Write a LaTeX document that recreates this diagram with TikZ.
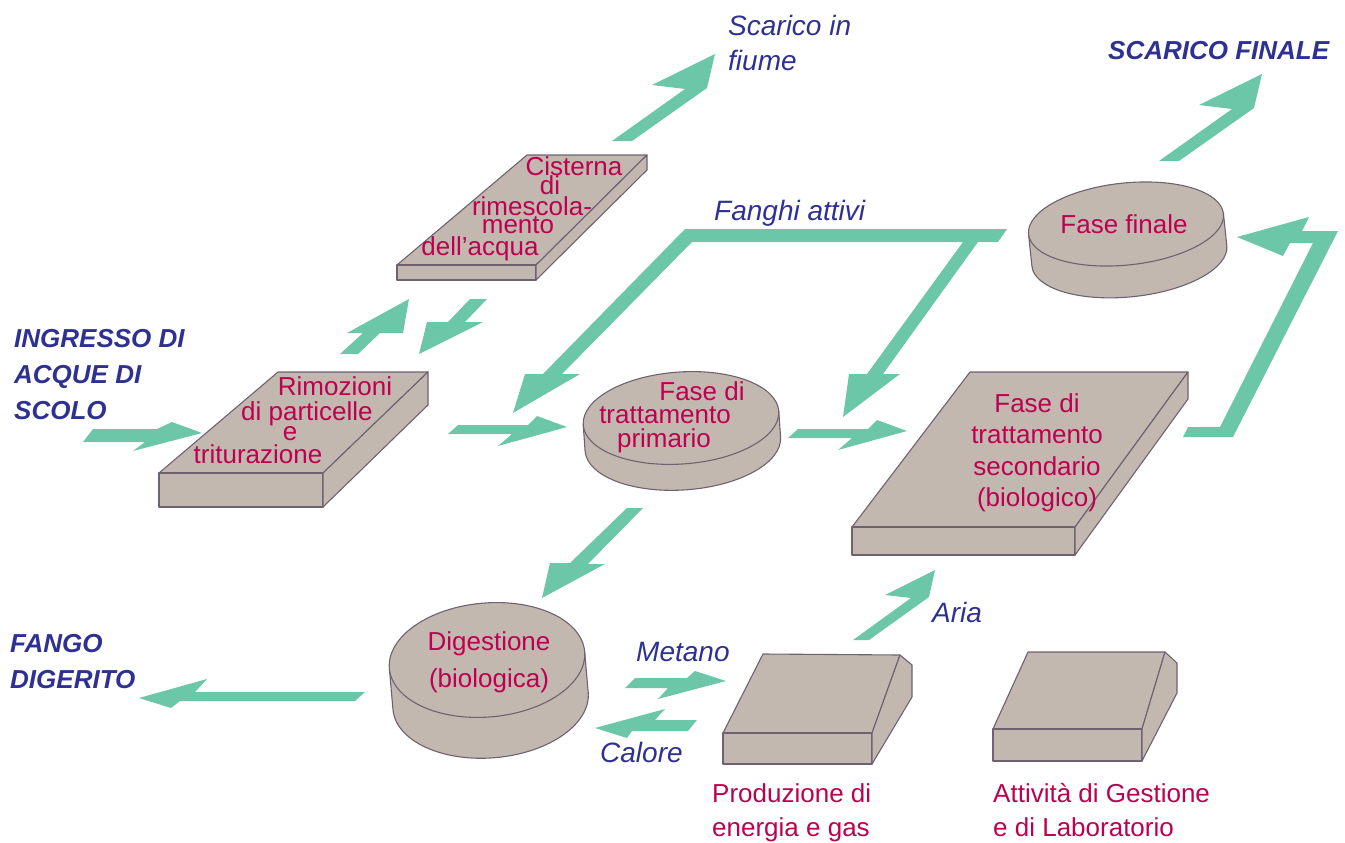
\documentclass[tikz,border=0pt]{standalone}
\usepackage{fontspec}
\setmainfont{Liberation Sans}
\definecolor{arrgreen}{RGB}{108,198,168}
\definecolor{lblue}{RGB}{46,49,146}
\definecolor{mag}{RGB}{190,0,80}
\definecolor{boxf}{RGB}{194,184,175}
\definecolor{boxd}{RGB}{110,98,114}
\newcommand\cylinder[6]{%
  \begin{scope}[rotate around={#6:(#1,#2)}]
    \fill[boxf] (#1-#3,#2) -- (#1-#3,#2+#5) arc[start angle=180,end angle=0,x radius=#3,y radius=#4] -- (#1+#3,#2) -- cycle;
    \draw[boxline] (#1-#3,#2) -- (#1-#3,#2+#5) arc[start angle=180,end angle=0,x radius=#3,y radius=#4] -- (#1+#3,#2);
    \filldraw[slab] (#1,#2) ellipse [x radius=#3, y radius=#4];
  \end{scope}}
\begin{document}
\begin{tikzpicture}[x=1pt,y=-1pt,
  flowarr/.style={fill=arrgreen},
  slab/.style={fill=boxf,draw=boxd,line width=1.1pt,line join=round},
  boxline/.style={draw=boxd,line width=1.1pt,line join=round},
  bluelab/.style={text=lblue,font=\fontsize{28}{35}\selectfont\itshape,inner sep=0pt,align=left},
  boldlab/.style={text=lblue,font=\fontsize{26}{36}\selectfont\bfseries\itshape,inner sep=0pt,align=left},
  maglab/.style={text=mag,font=\fontsize{26}{30}\selectfont,inner sep=0pt},
]
\useasboundingbox (0,0) rectangle (1345,843);

% ---------- boxes ----------
% Rimozioni
\filldraw[slab] (159,473) -- (278,372) -- (428,372) -- (323,473) -- cycle;
\filldraw[slab] (159,473) rectangle (323,507);
\filldraw[slab] (323,473) -- (428,372) -- (428,405) -- (323,507) -- cycle;
% Cisterna
\filldraw[slab] (397,265) -- (527,155) -- (647,155) -- (536,265) -- cycle;
\filldraw[slab] (397,265) rectangle (536,280);
\filldraw[slab] (536,265) -- (647,155) -- (647,170) -- (536,280) -- cycle;
% secondario
\filldraw[slab] (852,527) -- (970,372) -- (1188,372) -- (1075,527) -- cycle;
\filldraw[slab] (852,527) rectangle (1075,555);
\filldraw[slab] (1075,527) -- (1188,372) -- (1188,399) -- (1075,555) -- cycle;
% Produzione
\filldraw[slab] (723,733) -- (763,654) -- (900,655) -- (872,733) -- cycle;
\filldraw[slab] (723,733) rectangle (872,764);
\filldraw[slab] (872,733) -- (900,655) -- (912,665) -- (912,697) -- (872,764) -- cycle;
% Attivita
\filldraw[slab] (993,729) -- (1028,652) -- (1165,652) -- (1142,729) -- cycle;
\filldraw[slab] (993,729) rectangle (1142,761);
\filldraw[slab] (1142,729) -- (1165,652) -- (1177,663) -- (1177,693) -- (1142,761) -- cycle;
% cylinders
\cylinder{681}{418}{98}{46}{26}{4}
\cylinder{1126}{224}{98}{41}{32}{6}
\cylinder{487}{660}{98}{57}{41}{5}

% ---------- arrows ----------
\fill[flowarr] (93,429) -- (157,429) -- (172,422) -- (202,433) -- (133,451) -- (145,442) -- (83,442) -- cycle;
\fill[flowarr] (458,425) -- (528,425) -- (537,416) -- (567,427) -- (498,446) -- (512,434) -- (448,434) -- cycle;
\fill[flowarr] (798,429) -- (868,429) -- (877,420) -- (907,431) -- (838,450) -- (852,438) -- (788,438) -- cycle;
\fill[flowarr] (340,354) -- (363,333) -- (347,333) -- (409,299) -- (403,333) -- (380,333) -- (358,354) -- cycle;
\fill[flowarr] (470,299) -- (487,299) -- (465,322) -- (483,322) -- (419,354) -- (427,322) -- (448,322) -- cycle;
\fill[flowarr] (612,141) -- (685,89) -- (652,85) -- (715,54) -- (707,88) -- (632,141) -- cycle;
\fill[flowarr] (1159,161) -- (1232,109) -- (1199,105) -- (1262,74) -- (1254,108) -- (1179,161) -- cycle;
\fill[flowarr] (853,640) -- (911,598) -- (885,595) -- (935,570) -- (929,597) -- (869,640) -- cycle;
\fill[flowarr] (627,508) -- (643,508) -- (588,564) -- (605,564) -- (542,598) -- (550,563) -- (570,563) -- cycle;
\fill[flowarr] (365,692) -- (195,692) -- (207,679) -- (139,698) -- (171,708) -- (180,701) -- (355,701) -- cycle;
\fill[flowarr] (635,678) -- (687,678) -- (695,671) -- (726,681) -- (658,699) -- (668,688) -- (625,688) -- cycle;
\fill[flowarr] (595,728) -- (665,709) -- (655,720) -- (697,720) -- (688,731) -- (632,731) -- (627,738) -- cycle;
\fill[flowarr] (685,229) -- (1007,229) -- (998,242) -- (978,242) -- (883,374) -- (900,374) -- (843,417) -- (849,374) -- (867,374) -- (963,242) -- (692,242) -- (562,374) -- (580,374) -- (513,413) -- (525,374) -- (543,374) -- cycle;
\fill[flowarr] (1183,437) -- (1188,427) -- (1220,427) -- (1313,243) -- (1290,243) -- (1283,256) -- (1237,237) -- (1309,217) -- (1302,231) -- (1338,231) -- (1233,437) -- cycle;

% ---------- blue labels ----------
\node[bluelab,anchor=north west] (fiume) at (728,14.6) {Scarico in\\fiume};
\node[boldlab,anchor=base west] (finale) at (1108,60) {SCARICO FINALE};
\node[bluelab,anchor=base west] (fanghi) at (714,220) {Fanghi attivi};
\node[boldlab,anchor=north west] (ingresso) at (14,329) {INGRESSO DI\\ACQUE DI\\SCOLO};
\node[boldlab,anchor=north west] (fango) at (10,634) {FANGO\\DIGERITO};
\node[bluelab,anchor=base west] (metano) at (636,661) {Metano};
\node[bluelab,anchor=base west] (calore) at (600,762) {Calore};
\node[bluelab,anchor=base west] (aria) at (932,622) {Aria};

% ---------- magenta labels ----------
\node[maglab,anchor=base] (cis1) at (574,175) {Cisterna};
\node[maglab,anchor=base] (cis2) at (550,194) {di};
\node[maglab,anchor=base] (cis3) at (532,215) {rimescola-};
\node[maglab,anchor=base] (cis4) at (518,233) {mento};
\node[maglab,anchor=base] (cis5) at (480,255) {dell’acqua};
\node[maglab,anchor=base] (rim1) at (335,395) {Rimozioni};
\node[maglab,anchor=base] (rim2) at (307,420) {di particelle};
\node[maglab,anchor=base] (rim3) at (290,440) {e};
\node[maglab,anchor=base] (rim4) at (258,463) {triturazione};
\node[maglab,anchor=base] (pri1) at (702,400) {Fase di};
\node[maglab,anchor=base] (pri2) at (665,423) {trattamento};
\node[maglab,anchor=base] (pri3) at (664,447) {primario};
\node[maglab,anchor=north,align=center,font=\fontsize{26}{31.5}\selectfont] (sec) at (1037,393) {Fase di\\trattamento\\secondario\\(biologico)};
\node[maglab,anchor=base] (ffin) at (1124,233) {Fase finale};
\node[maglab,anchor=north,align=center,font=\fontsize{26}{37}\selectfont] (dig) at (489,631) {Digestione\\(biologica)};
\node[maglab,anchor=north west,align=left,font=\fontsize{26}{34}\selectfont] (prod) at (712,783) {Produzione di\\energia e gas};
\node[maglab,anchor=north west,align=left,font=\fontsize{26}{34}\selectfont] (att) at (993,783) {Attività di Gestione\\e di Laboratorio};
\end{tikzpicture}
\end{document}
